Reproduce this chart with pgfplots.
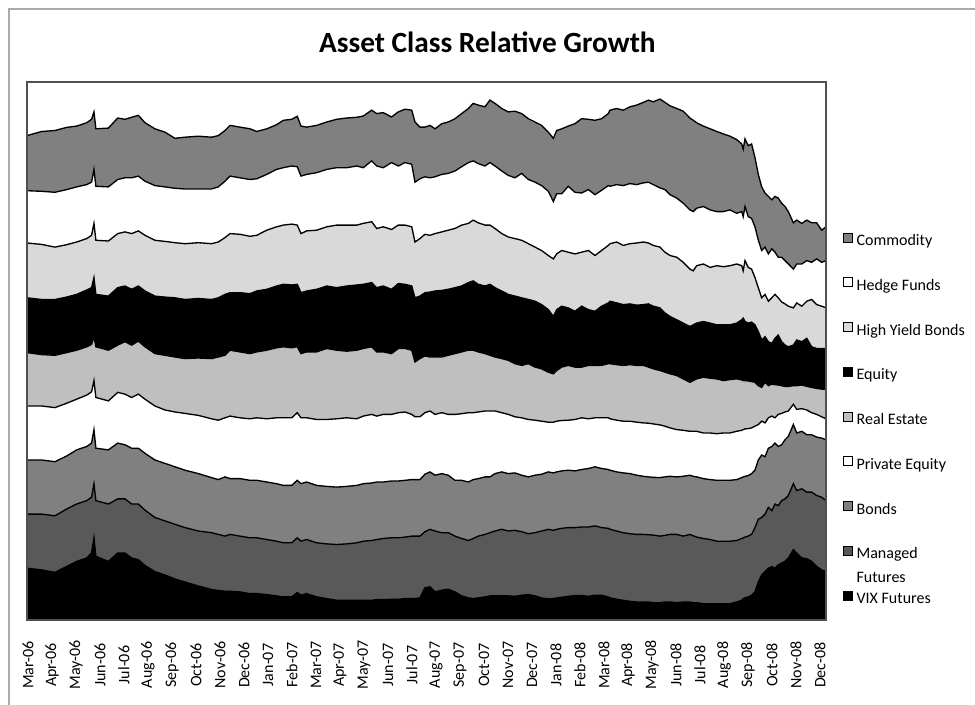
\documentclass[border=0pt]{standalone}
\usepackage{fontspec}
\setmainfont{Carlito}
\usepackage{pgfplots}
\pgfplotsset{compat=1.18}
\usepackage{pgfplotstable}
\definecolor{cComm}{RGB}{128,128,128}
\definecolor{cHY}{RGB}{217,217,217}
\definecolor{cRE}{RGB}{191,191,191}
\definecolor{cBonds}{RGB}{128,128,128}
\definecolor{cMF}{RGB}{89,89,89}
\definecolor{frameC}{RGB}{80,80,80}
\definecolor{outerC}{RGB}{170,170,170}
% stacked levels (cumulative tops) of the nine series, c1 = VIX Futures ... c9 = Commodity
\pgfplotstableread{
m c1 c2 c3 c4 c5 c6 c7 c8 c9
-0.04 51.8 105.9 160 214 267.4 322.2 377 429.3 484.4
0.57 50.1 105.9 160 214 265.4 320.5 375.6 428.7 488.5
1.125 47.7 104.2 158.3 212.4 264.7 320.5 372.9 427.7 489.5
1.61 53.5 111 164 216.7 267.4 322.9 375.3 430.4 492.6
2.03 58.6 116 170.1 220.8 269.8 325.6 378 433.1 493.9
2.45 62 119.4 173.5 224.9 273.2 330 381.4 435.4 497.3
2.65 67 122.8 176.9 228.2 275.6 332.3 384.7 437.8 500.7
2.75 82.2 136.3 190.4 239.4 283.3 342.5 396.6 450.6 508.1
2.83 63.6 119.4 171.8 222.5 273.2 325.6 379.7 433.7 491.2
3.35 58.6 116 170.1 219.1 269.8 323.9 379 433.1 491.9
3.74 67 121.1 176.9 227.6 274.9 332.3 386.4 440.5 502
4.04 67 121.1 175.2 225.9 278.3 334 388.1 442.2 500.7
4.32 62 116 171.8 222.5 274.9 330.7 386.4 442.2 502.7
4.60 60.3 116 171.8 225.9 278.9 334 389.1 443.9 504.7
4.875 54.5 109.9 166.7 220.8 273.2 329 384.7 438.8 497.3
5.29 48.4 102.5 160 214 266.4 323.9 379.7 434.4 491.2
5.71 45 99.1 156.6 210 264.7 322.9 378.6 433.1 487.8
6.125 41 95.7 153.2 208 263 322.2 377.3 431.7 481.7
6.54 38 92.4 149.8 206.6 261.4 320.5 376.3 431 482.8
7.10 34 89 146.4 204.6 262 321.5 377.3 431 483.8
7.65 30.5 87.3 142.4 201.2 261.4 320.5 376.3 431 482.8
7.93 29.5 85.6 140.4 199.8 263 322.2 378 433.1 484.4
8.21 28.8 83.9 143.1 202.2 264.7 325.6 382.4 438.8 489.5
8.42 28.8 85.6 141.4 203.9 269.8 327.3 386.4 443.9 494.6
8.83 28.1 83.9 141.4 202.2 268.1 327.3 385.7 442.2 492.9
9.25 26.4 82.2 139.7 201.2 266.4 326.3 383.7 440.5 491.2
9.53 26.4 82.2 139.7 202.2 268.1 329 384.7 441.2 488.5
9.95 25.4 80.5 138 201.2 269.8 330.7 389.8 445.6 491.2
10.36 24.1 78.8 136.3 202.2 272.2 334 393.2 450.6 495.3
10.64 23.1 77.2 134.6 202.2 273.2 335.7 394.9 452.3 499.7
10.99 23.1 77.2 134.6 202.2 272.2 335 395.9 454 500.7
11.22 27.5 82.2 139.7 207.3 273.2 335.7 394.9 453.3 503.7
11.375 24.8 78.8 136.3 202.2 266.4 327.3 386.4 443.9 493.9
11.61 26.4 80.5 138 202.2 268.1 329 389.1 445.6 492.9
12.03 23.1 77.2 134.6 200.5 268.1 330.7 389.8 447.3 494.6
12.45 21.4 76.1 133.6 200.5 271.5 334 393.2 450.6 498
12.86 19.7 75.5 132.9 201.2 269.8 332.3 394.9 452.3 500.7
13.28 19.7 76.1 133.6 202.2 268.8 334 394.9 452.3 502
13.70 19.7 77.2 134.6 201.2 269.8 335 394.9 454 502.7
13.97 19.7 78.8 136.3 203.9 271.5 335.7 396.6 452.3 504
14.32 19.7 79.5 137 205.6 273.2 337.4 398.3 459.1 509.8
14.53 20.4 80.5 138 203.9 268.1 332.3 391.5 454 506.4
14.80 20.4 81.5 138 205.6 268.1 334 393.2 452.3 507.4
15.15 20.7 82.2 139 205.6 266.4 330.7 390.5 457.4 503
15.43 20.7 82.2 139 207.3 271.5 336.4 394.9 454 508.1
15.71 21.4 82.9 139.7 208 271.5 335.7 394.9 457.4 510.8
15.99 21.4 83.9 140.4 205.6 269.8 334 393.2 455.7 509.8
16.125 21.4 83.9 140.4 203.2 258 322.2 378 437.8 498
16.33 22.1 83.9 140.4 203.2 261.4 323.9 381.4 441.2 492.9
16.54 32.2 88.3 145.8 207.3 264 327.3 385.7 443.2 492.9
16.75 33.2 90.7 148.1 209 263 327.9 384.7 442.2 494.6
16.96 28.1 89 144.8 205.6 263 329 386.4 443.2 491.2
17.24 29.8 87.3 146.4 207.3 263 329.6 388.1 445.6 496.3
17.51 30.8 87.3 144.8 205.6 264.7 330.7 389.8 446.6 498
17.79 28.1 83.9 139.7 205.6 266.4 332.3 391.5 449 501.3
18.07 24.1 81.5 139.7 206.3 268.1 334 394.9 453.3 506.4
18.35 22.1 79.5 138 207.3 269.8 337.4 396.6 457.4 511.5
18.55 21.4 81.5 140.4 207.3 269.8 339.1 399.9 459.1 516.6
18.76 22.1 83.9 141.4 208 268.1 335.7 397.2 456.4 514.9
19.04 23.1 85.6 143.1 209 266.4 334 394.9 454 513.2
19.25 24.1 87.3 143.1 209 264.7 335.7 394.9 457.4 519.9
19.46 24.1 89 146.4 209 263 332.3 391.5 454 516.6
19.74 24.4 90.7 148.1 207.3 261.4 329 386.4 449 511.5
20.01 24.1 89 146.4 205.6 259.7 325.6 383 444.6 508.1
20.29 23.7 89.7 147.1 203.2 256.3 323.9 381.4 442.2 508.8
20.57 24.8 88.3 144.8 202.2 254.6 322.2 379.7 446.6 506.4
20.85 25.4 86.3 143.1 200.5 256.3 320.5 376.3 440.5 501.3
21.125 24.1 87.3 144.8 199.8 252.9 318.8 372.9 437.8 498
21.40 22.1 89 145.8 198.8 251.2 315.4 369.5 434.4 494.6
21.68 21.1 90.7 148.1 197.8 247.8 310.4 364.5 428.7 487.8
21.89 21.4 89.7 147.1 197.8 246.2 303.6 361.1 418.5 481.7
22.03 22.1 90.7 148.1 198.8 249.5 310.4 366.1 426.3 489.5
22.24 22.7 91.7 149.1 199.5 252.9 313.8 369.5 426.3 491.2
22.51 23.7 92.4 149.8 199.8 254.6 312.1 367.8 433.7 493.9
22.79 24.4 92.4 149.1 200.5 252.9 308.7 366.1 427.7 496.3
23.07 24.4 93 150.5 202.2 252.9 313.8 367.8 427 501.3
23.35 23.7 93 151.5 201.2 254.6 310.4 369.5 430.4 500.7
23.625 24.8 94.1 153.2 202.2 254.6 308.7 364.5 425.3 499.7
23.90 24.8 92.4 151.5 202.2 254.6 313.8 369.5 429.7 501.3
24.18 23.1 91.7 150.5 202.2 256.3 317.1 374.6 434.4 506.4
24.25 22.1 90.7 149.8 201.2 256.3 318.8 376.3 433.7 509.8
24.53 20.7 89 148.1 199.8 255.3 317.1 378 435.4 511.5
24.80 19.7 87.3 147.1 198.8 254.6 315.4 374.6 434.4 509.8
25.08 18.7 86.3 146.4 198.8 255.3 316.1 376.3 436.4 513.2
25.36 18 85.6 144.8 197.8 254.6 314.8 377 435.4 514.9
25.64 18 85.6 143.7 197.1 254.6 315.4 378 437.1 517.6
25.85 18 85.3 143.1 196.8 252.9 316.1 377 437.8 519.9
26.05 17.3 84.9 142.7 196.1 251.2 313.8 374.6 435.4 518.2
26.33 17.3 83.9 142.4 195.1 249.5 312.1 372.9 432.1 520.9
26.54 18 84.6 143.1 193.8 247.8 307 367.8 430.4 517.6
26.75 18 85.6 143.7 192.1 246.2 303.6 364.5 425.3 514.2
27.03 17.3 85.6 143.1 190.4 244.5 300.2 362.8 421.9 511.5
27.30 18 83.9 143.7 189.7 241.1 296.9 357.7 416.8 508.8
27.58 18 85.6 144.8 188.7 237.7 293.5 350.9 410.1 502
27.72 17.3 84.2 143.7 188.7 239.4 295.2 349.2 408.4 499.7
27.86 17.3 82.9 143.1 188.7 241.1 296.9 354.3 411.8 497.3
28.14 16.3 81.5 141.4 187 242.8 298.5 356 413.5 493.9
28.42 16.3 80.5 140.4 187 241.8 296.9 352.6 410.1 491.2
28.70 16.3 78.8 139.7 186.3 241.1 295.2 354.3 408.4 488.5
28.97 16.3 78.8 139.7 187 239.4 295.2 353.3 408.4 486.1
29.25 16.3 78.8 139.7 187 240.4 295.2 354.3 410.1 483.8
29.53 18 79.5 140.4 188.7 241.1 296.9 356 406.7 480.4
29.74 19.7 81.5 142.4 189.7 240.1 300.2 354.3 408.4 476
29.80 21.4 82.2 143.1 190.4 239.4 301.9 349.2 403.3 470.9
29.875 22.1 82.9 143.7 191.1 239.4 298.5 359.4 413.5 481.1
30.01 23.1 83.9 144.4 191.4 239 296.9 352.6 403.3 474.3
30.15 24.8 85.6 146.4 192.1 238.4 297.9 350.9 401.6 476
30.29 28.1 92.4 149.8 193.8 237.7 295.2 342.5 393.2 462.5
30.43 38.3 100.8 160 195.5 234.3 288.4 332.3 379.7 445.6
30.57 45 102.5 165 198.8 232.6 280 322.2 369.5 433.1
30.71 48.4 105.9 163.3 197.1 237.7 283.3 325.6 372.9 427
30.85 51.8 112.6 171.8 202.2 234.3 278.3 318.8 366.1 423.6
30.99 53.5 109.3 173.5 203.9 236 276.6 322.2 371.2 420.2
31.125 51.8 116 176.9 202.2 235.3 281.6 325.6 367.8 423.6
31.26 55.2 114.3 173.5 205.6 235 285 322.2 362.8 421.9
31.40 56.9 119.4 175.2 206.6 234.3 278.3 318.1 362.8 416.8
31.54 58.6 121.1 180.2 208 233.6 274.9 316.1 359.4 413.5
31.68 62 124.5 183.6 209 233.6 273.2 313.8 356 408.4
31.89 70.4 136.3 195.5 215.7 234.3 274.9 312.1 350.9 397.2
32.03 67 129.5 187 210.7 234.3 280 317.1 356 399.9
32.24 62 131.2 188.7 211.3 235 278.3 313.8 356 396.6
32.45 61.3 127.9 185.3 210 233.6 281.6 318.8 359.4 399.9
32.65 58.6 127.9 185.3 207.3 232.6 273.2 320.5 357.7 397.2
32.86 53.5 124.5 182.9 205.6 231.6 271.5 315.4 361.1 397.2
33.07 50.1 122.8 181.9 203.2 230.9 271.5 313.8 357.7 389.8
33.25 48.4 119.4 180.2 201.2 230.9 271.5 312.1 359.4 393.2
}\levels

\begin{document}
\begin{tikzpicture}
\useasboundingbox (0pt,0pt) rectangle (731.25pt,-528.75pt);
\draw[outerC, line width=1.1pt] (6.75pt,-540pt) -- (6.75pt,-6.75pt) -- (740pt,-6.75pt);
\node[font=\fontsize{22}{26}\selectfont\bfseries] at (365.6pt,-31.5pt) {Asset Class Relative Growth};
\begin{axis}[
  at={(20.25pt,-465pt)}, anchor=south west,
  scale only axis, width=599.25pt, height=403.5pt,
  xmin=-0.04, xmax=33.25, ymin=0, ymax=538,
  axis on top,
  axis line style={draw=frameC, line width=1.1pt},
  ytick=\empty,
  xtick={0,...,33},
  xticklabels={Mar-06,Apr-06,May-06,Jun-06,Jul-06,Aug-06,Sep-06,Oct-06,Nov-06,Dec-06,Jan-07,Feb-07,Mar-07,Apr-07,May-07,Jun-07,Jul-07,Aug-07,Sep-07,Oct-07,Nov-07,Dec-07,Jan-08,Feb-08,Mar-08,Apr-08,May-08,Jun-08,Jul-08,Aug-08,Sep-08,Oct-08,Nov-08,Dec-08},
  major tick length=0pt,
  xticklabel style={yshift=-33.75pt, rotate=90, anchor=center, font=\fontsize{12}{14}\selectfont},
  legend cell align=left,
  legend style={at={(1.0213,0.72)}, anchor=north west, draw=none, fill=none,
    inner sep=0pt, outer sep=0pt, row sep=21.25pt, column sep=3pt,
    font=\fontsize{12}{14}\selectfont,
    nodes={inner sep=0pt, text height=8.5pt, text depth=2.5pt}},
  legend image code/.code={\draw[#1,draw=black,line width=0.4pt] (0pt,-0.2pt) rectangle (6.8pt,6.6pt);},
]
\addplot[fill=cComm, draw=black, line width=1pt] table[x=m,y=c9]{\levels} \closedcycle;
\addlegendentry{Commodity}
\addplot[fill=white, draw=black, line width=1pt] table[x=m,y=c8]{\levels} \closedcycle;
\addlegendentry{Hedge Funds}
\addplot[fill=cHY, draw=black, line width=1pt] table[x=m,y=c7]{\levels} \closedcycle;
\addlegendentry{High Yield Bonds}
\addplot[fill=black, draw=black, line width=1pt] table[x=m,y=c6]{\levels} \closedcycle;
\addlegendentry{Equity}
\addplot[fill=cRE, draw=black, line width=1pt] table[x=m,y=c5]{\levels} \closedcycle;
\addlegendentry{Real Estate}
\addplot[fill=white, draw=black, line width=1pt] table[x=m,y=c4]{\levels} \closedcycle;
\addlegendentry{Private Equity}
\addplot[fill=cBonds, draw=black, line width=1pt] table[x=m,y=c3]{\levels} \closedcycle;
\addlegendentry{Bonds}
\addplot[fill=cMF, draw=black, line width=1pt] table[x=m,y=c2]{\levels} \closedcycle;
\addlegendentry{\smash{\vtop{\baselineskip=18pt\hbox{Managed}\hbox{Futures}}}}
\addplot[fill=black, draw=black, line width=1pt] table[x=m,y=c1]{\levels} \closedcycle;
\addlegendentry{VIX Futures}
\end{axis}
\end{tikzpicture}
\end{document}
